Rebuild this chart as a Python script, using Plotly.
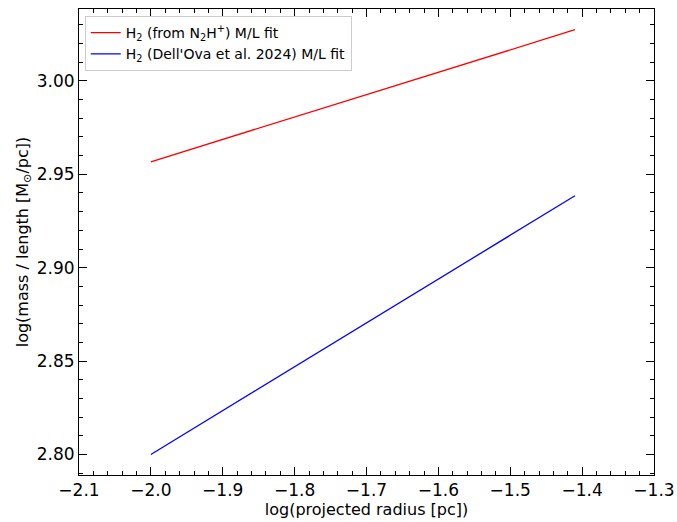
import plotly.graph_objects as go

x_red = [-2.0, -1.41]
y_red = [2.9567, 3.0274]
x_blue = [-2.0, -1.41]
y_blue = [2.800, 2.9385]
label_red = "H<sub>2</sub> (from N<sub>2</sub>H<sup>+</sup>) M/L fit"
label_blue = "H<sub>2</sub> (Dell'Ova et al. 2024) M/L fit"

fig = go.Figure()
fig.add_trace(go.Scatter(x=x_red, y=y_red, mode="lines", name=label_red,
                         line=dict(color="#ff0000", width=1.3)))
fig.add_trace(go.Scatter(x=x_blue, y=y_blue, mode="lines", name=label_blue,
                         line=dict(color="#0000ff", width=1.3)))

axis_common = dict(
    showgrid=False, zeroline=False, showline=True, linecolor="black", linewidth=1,
    mirror="allticks", ticks="inside", ticklen=8, tickwidth=1.3, tickcolor="black",
    tickfont=dict(family="DejaVu Sans", size=17, color="black"), automargin=False,
)
fig.update_xaxes(range=[-2.1, -1.3], tick0=-2.1, dtick=0.1, tickformat=".1f",
                 minor=dict(ticks="inside", ticklen=4, dtick=0.02, tickcolor="black", tickwidth=1),
                 title=dict(text="log(projected radius [pc])", font=dict(family="DejaVu Sans", size=16, color="black"), standoff=3),
                 **axis_common)
fig.update_yaxes(range=[2.789, 3.0385], tick0=2.8, dtick=0.05, tickformat=".2f",
                 minor=dict(ticks="inside", ticklen=4, dtick=0.01, tickcolor="black", tickwidth=1),
                 title=dict(text="log(mass / length [M<sub>⊙</sub>/pc])", font=dict(family="DejaVu Sans", size=16, color="black"), standoff=4),
                 **axis_common)
fig.update_layout(
    width=677, height=522,
    margin=dict(l=79, r=23, t=9, b=47),
    plot_bgcolor="white", paper_bgcolor="white",
    font=dict(family="DejaVu Sans", color="black"),
    legend=dict(x=0.01, y=0.985, xanchor="left", yanchor="top",
                bgcolor="rgba(255,255,255,0.8)", bordercolor="#cccccc", borderwidth=1,
                font=dict(family="DejaVu Sans", size=14, color="black"),
                tracegroupgap=0, itemwidth=30),
    showlegend=True,
)
fig.write_html("out.html")
